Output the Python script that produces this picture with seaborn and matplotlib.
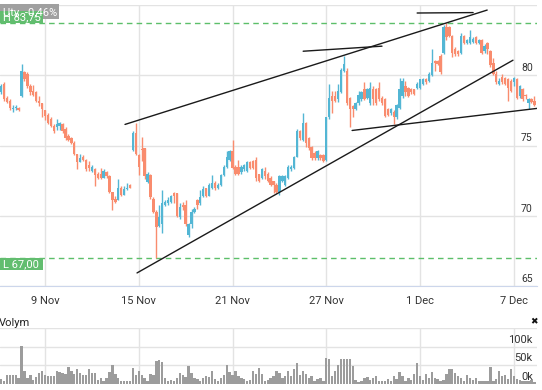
import numpy as np
import pandas as pd
import matplotlib
matplotlib.use('Agg')
import matplotlib.pyplot as plt
import matplotlib.transforms as mtransforms
from matplotlib.patches import Rectangle
import seaborn as sns

# candles, one per trading period (index 1..183)
opens = [78.8, 79.4, 78.4, 78.2, 77.6, 77.65, 77.7, 78.5, 80.2, 80.1,
         79.2, 78.9, 78.8, 78.2, 78.05, 77.5, 77.2, 76.9, 76.4, 76.3,
         76.4, 76.5, 76.2, 75.7, 75.5, 75.2, 74.4, 73.8, 74.2, 74.0,
         73.6, 73.2, 73.3, 73.0, 73.0, 72.7, 73.1, 72.8, 71.7, 71.2,
         71.1, 72.0, 71.5, 71.9, 72.2, 74.7, 75.9, 74.3, 74.75, 74.8,
         72.4, 72.9, 71.2, 70.3, 69.3, 69.4, 70.8, 70.9, 71.0, 71.6,
         71.6, 69.9, 70.8, 70.8, 68.6, 69.4, 70.3, 71.1, 70.9, 71.4,
         72.0, 71.4, 72.0, 72.3, 72.0, 72.2, 72.9, 73.5, 74.0, 74.6,
         73.5, 73.5, 73.1, 73.3, 73.2, 73.8, 73.9, 74.0, 73.0, 72.7,
         73.2, 73.0, 72.7, 72.5, 72.2, 71.7, 72.5, 72.2, 72.7, 73.3,
         73.4, 74.2, 76.0, 75.4, 76.6, 75.5, 74.9, 74.5, 74.1, 74.3,
         74.3, 74.0, 77.0, 78.5, 78.5, 78.3, 78.8, 80.3, 80.3, 78.4,
         77.8, 77.6, 78.0, 78.3, 79.0, 78.4, 78.0, 79.0, 79.0, 79.1,
         78.4, 78.3, 77.6, 77.3, 77.4, 77.0, 77.7, 78.5, 79.2, 79.1,
         79.0, 79.0, 79.1, 79.1, 79.4, 79.7, 79.6, 80.0, 81.0, 81.0,
         81.4, 81.6, 83.4, 83.4, 82.8, 81.9, 81.7, 81.6, 82.8, 82.3,
         82.3, 82.4, 82.7, 82.3, 82.5, 81.7, 82.3, 81.7, 80.9, 80.1,
         79.4, 79.9, 79.8, 79.7, 79.6, 79.5, 79.7, 78.5, 79.0, 78.6,
         78.0, 78.3, 78.2]
highs = [79.4, 79.5, 78.5, 78.3, 77.9, 77.9, 77.75, 80.8, 80.3, 80.2,
         79.4, 79.3, 78.9, 78.5, 78.05, 77.55, 77.3, 77.0, 76.5, 76.9,
         76.7, 76.6, 76.3, 75.8, 75.6, 75.3, 74.4, 74.4, 74.3, 74.05,
         73.9, 73.6, 73.4, 73.1, 73.4, 73.3, 73.15, 72.9, 71.7, 71.4,
         72.6, 72.1, 72.1, 72.3, 72.25, 76.0, 76.6, 74.4, 75.6, 74.8,
         73.1, 73.0, 71.3, 70.4, 70.8, 71.8, 71.1, 71.3, 71.5, 71.7,
         71.6, 70.9, 71.0, 71.1, 69.45, 70.5, 70.6, 71.2, 71.8, 72.1,
         72.0, 72.3, 72.9, 72.5, 72.3, 73.0, 73.6, 74.6, 74.7, 75.4,
         73.6, 74.0, 73.6, 73.7, 73.9, 73.9, 74.0, 74.2, 73.0, 73.4,
         73.5, 73.1, 72.8, 72.5, 72.3, 72.9, 72.9, 72.9, 73.6, 73.6,
         74.25, 76.2, 76.1, 77.3, 76.65, 75.6, 75.0, 74.6, 74.7, 74.4,
         74.4, 77.05, 79.4, 78.9, 78.9, 79.4, 80.5, 81.4, 80.5, 78.45,
         77.9, 78.1, 78.9, 78.9, 79.5, 79.1, 79.5, 79.2, 79.1, 79.5,
         78.5, 78.4, 77.7, 77.7, 77.5, 77.95, 79.8, 79.8, 79.6, 79.15,
         79.1, 79.05, 79.5, 79.75, 79.8, 79.8, 80.2, 81.9, 81.1, 81.05,
         81.5, 83.6, 83.75, 83.5, 82.85, 82.0, 81.8, 83.0, 82.9, 82.6,
         83.2, 82.7, 82.8, 82.6, 82.55, 82.2, 82.4, 81.8, 81.2, 80.3,
         79.8, 80.1, 79.9, 79.8, 79.7, 79.9, 79.8, 79.3, 79.1, 78.65,
         78.35, 78.4, 78.5]
lows = [78.7, 78.2, 78.0, 77.5, 77.4, 77.5, 77.45, 78.45, 79.6, 79.1,
        78.6, 78.5, 78.1, 77.8, 77.0, 76.8, 76.5, 76.3, 75.9, 76.1,
        76.1, 75.9, 75.4, 75.3, 75.1, 74.3, 73.3, 73.8, 73.9, 73.2,
        73.2, 73.1, 72.1, 72.6, 72.6, 72.7, 72.7, 71.6, 70.4, 70.9,
        71.1, 71.4, 71.5, 71.8, 71.95, 74.6, 74.35, 72.9, 73.9, 72.6,
        72.3, 71.2, 70.2, 67.0, 69.2, 68.8, 70.7, 70.8, 70.9, 70.9,
        69.9, 69.8, 70.4, 69.3, 68.5, 69.1, 70.2, 70.5, 70.8, 71.3,
        71.3, 71.4, 71.9, 71.8, 71.9, 72.1, 72.8, 73.4, 73.9, 73.3,
        72.9, 72.9, 73.0, 73.2, 73.1, 73.3, 73.3, 72.5, 72.4, 72.6,
        72.6, 72.4, 72.1, 71.6, 71.65, 71.5, 72.4, 72.1, 72.6, 73.2,
        73.3, 74.15, 75.4, 75.35, 74.9, 74.7, 74.0, 74.0, 74.0, 74.0,
        73.8, 73.9, 76.9, 77.3, 78.1, 78.1, 78.75, 80.2, 77.9, 76.3,
        77.0, 77.5, 77.9, 78.2, 78.25, 78.3, 77.9, 77.9, 77.9, 78.2,
        77.9, 77.05, 77.1, 77.2, 76.5, 76.9, 77.6, 78.4, 78.5, 78.45,
        78.7, 78.6, 79.0, 79.0, 79.3, 79.4, 79.5, 79.95, 80.3, 80.7,
        80.1, 81.5, 82.5, 82.7, 81.3, 81.4, 81.4, 81.5, 82.2, 82.2,
        82.2, 82.3, 82.2, 82.2, 81.5, 81.6, 81.5, 80.6, 80.0, 79.4,
        79.3, 79.4, 79.3, 78.2, 78.8, 79.2, 78.3, 78.4, 78.2, 78.3,
        77.6, 78.0, 77.8]
closes = [79.2, 78.3, 78.1, 77.7, 77.7, 77.7, 77.5, 80.3, 79.7, 79.2,
          78.8, 78.6, 78.2, 78.05, 77.6, 77.1, 76.6, 76.4, 76.0, 76.5,
          76.6, 76.0, 75.5, 75.4, 75.2, 74.4, 73.8, 74.1, 74.0, 73.3,
          73.4, 73.5, 72.9, 72.7, 72.7, 73.2, 72.8, 71.7, 71.1, 71.0,
          72.0, 71.5, 71.9, 72.0, 72.0, 75.9, 74.4, 73.5, 74.65, 72.8,
          73.0, 71.3, 70.3, 69.2, 69.9, 70.9, 71.0, 71.1, 71.4, 71.4,
          70.0, 70.6, 70.6, 69.4, 69.4, 70.3, 70.5, 70.8, 71.3, 71.9,
          71.4, 72.2, 72.3, 72.0, 72.2, 72.9, 73.5, 74.2, 74.6, 73.4,
          73.0, 73.0, 73.5, 73.6, 73.8, 73.4, 73.4, 72.7, 72.5, 73.3,
          72.8, 72.5, 72.2, 72.2, 71.7, 72.8, 72.8, 72.8, 73.5, 73.5,
          74.2, 76.0, 75.5, 76.6, 75.2, 74.8, 74.1, 74.1, 74.6, 74.1,
          73.9, 77.0, 78.4, 78.2, 78.2, 78.9, 80.4, 80.8, 78.0, 77.6,
          77.6, 78.0, 78.6, 78.8, 78.3, 79.0, 79.1, 78.3, 78.0, 78.3,
          78.0, 77.1, 77.2, 77.6, 77.0, 77.9, 79.0, 79.6, 78.8, 78.5,
          78.8, 78.7, 79.4, 79.7, 79.7, 79.5, 80.1, 80.9, 80.9, 80.8,
          80.2, 83.4, 82.7, 82.8, 81.6, 81.5, 81.5, 82.8, 82.3, 82.5,
          82.7, 82.6, 82.3, 82.5, 81.6, 82.1, 81.9, 80.7, 80.1, 79.5,
          79.6, 79.5, 79.4, 79.1, 78.9, 79.8, 78.4, 79.2, 78.3, 78.5,
          78.3, 78.1, 77.9]
volumes_k = [14, 9, 25, 25, 24, 25, 16, 102, 36, 16,
             24, 12, 18, 30, 34, 24, 21, 21, 21, 34,
             33, 30, 27, 45, 34, 27, 39, 30, 24, 25,
             39, 30, 30, 12, 16, 7, 16, 33, 52, 27,
             16, 9, 9, 7, 7, 42, 25, 34, 25, 16,
             9, 27, 24, 62, 64, 60, 16, 9, 12, 7,
             16, 30, 24, 18, 48, 30, 16, 14, 7, 16,
             21, 18, 34, 14, 9, 16, 24, 52, 33, 25,
             34, 21, 16, 14, 7, 12, 34, 27, 43, 27,
             9, 12, 16, 21, 34, 30, 16, 21, 34, 21,
             39, 57, 24, 34, 27, 16, 21, 9, 14, 16,
             9, 69, 66, 21, 34, 52, 66, 66, 66, 66,
             48, 12, 5, 9, 16, 18, 12, 16, 21, 9,
             7, 9, 14, 9, 21, 14, 33, 21, 7, 16,
             12, 27, 55, 21, 12, 27, 16, 33, 16, 14,
             9, 12, 27, 39, 39, 30, 21, 16, 7, 24,
             16, 12, 16, 7, 9, 7, 7, 45, 7, 14,
             34, 21, 25, 14, 41, 21, 14, 12, 9, 9,
             7, 12, 5]

tick_pos = [16, 48, 80, 112, 144, 176]
tick_labels = ['9 Nov', '15 Nov', '21 Nov', '27 Nov', '1 Dec', '7 Dec']
price_ticks = [65, 70, 75, 80]
volume_ticks = [0, 50, 100]
# hand drawn trend lines: (start index, start price, end index, end price)
trend_lines = [
    (43.3, 76.5, 166.9, 84.64),
    (143.0, 84.43, 162.1, 84.46),
    (104.1, 81.71, 131.0, 82.07),
    (47.4, 65.93, 175.7, 81.07),
    (120.8, 76.07, 183.9, 77.64),
]
change_text = 'Utv. -0,46%'

sns.set_style('white')
plt.rcParams['font.family'] = ['Roboto', 'DejaVu Sans']

df = pd.DataFrame({'idx': np.arange(1, len(opens) + 1), 'open': opens, 'high': highs,
                   'low': lows, 'close': closes, 'volume': volumes_k})
up_col, down_col = '#53b6d4', '#f98c6e'
cols = np.where(df['close'] >= df['open'], up_col, down_col)

W, H = 542, 390
fig = plt.figure(figsize=(W / 100, H / 100), dpi=100)
ax = fig.add_axes([0, 104 / H, 537 / W, 281 / H])
axv = fig.add_axes([0, 6 / H, 537 / W, 56 / H])
xlim = (0.64, 183.9)
grid_col = '#e3e3e3'
txt_col = '#333333'

# price panel
ax.vlines(df['idx'], df['low'], df['high'], colors=cols, lw=1, zorder=3)
body = np.maximum((df['close'] - df['open']).abs(), 0.08)
ax.bar(df['idx'], body, bottom=np.minimum(df['open'], df['close']), width=0.8,
       color=cols, zorder=3, linewidth=0)
for x0, y0, x1, y1 in trend_lines:
    ax.plot([x0, x1], [y0, y1], color='#1a1a1a', lw=1, zorder=4)

hi, lo = df['high'].max(), df['low'].min()
for v in (hi, lo):
    ax.axhline(v, color='#5cbf6a', lw=1, ls=(0, (4, 3)), zorder=2)

ax.set_xlim(*xlim)
ax.set_ylim(65, 85)
ax.set_yticks([65, 70, 75, 80, 85])
ax.set_yticklabels([])
ax.set_xticks(tick_pos, tick_labels)
ax.tick_params(axis='both', length=0)
ax.tick_params(axis='x', pad=7, labelsize=8, labelcolor=txt_col)
ax.grid(True, color=grid_col, lw=1)
ax.set_axisbelow(True)
for s in ['left', 'right', 'top']:
    ax.spines[s].set_visible(False)
ax.spines['bottom'].set_color('#ccd6eb')
blend = mtransforms.blended_transform_factory(ax.transAxes, ax.transData)
for v in price_ticks:
    ax.annotate(str(v), xy=(1, v), xycoords=blend, xytext=(-3, 1.5),
                textcoords='offset points', ha='right', va='bottom',
                fontsize=7.5, color=txt_col)

# volume panel
sns.barplot(x=df['idx'], y=df['volume'], native_scale=True, ax=axv, color='#9c9c9c',
            saturation=1, width=0.8, errorbar=None, zorder=3, linewidth=0)
axv.set_xlim(*xlim)
axv.set_ylim(0, 150)
axv.set_xticks(tick_pos)
axv.set_xticklabels([])
axv.set_yticks([50, 100, 150])
axv.set_yticklabels([])
axv.set_xlabel('')
axv.set_ylabel('')
axv.tick_params(axis='both', length=0)
axv.grid(True, color=grid_col, lw=1)
axv.set_axisbelow(True)
for s in axv.spines.values():
    s.set_visible(False)
blendv = mtransforms.blended_transform_factory(axv.transAxes, axv.transData)
for v in volume_ticks:
    axv.annotate(f'{v}k', xy=(1, v), xycoords=blendv, xytext=(-3, 1.5),
                 textcoords='offset points', ha='right', va='bottom',
                 fontsize=8, color=txt_col, zorder=5)

# labels in pixel coordinates (origin at top left of the image)
ident = mtransforms.IdentityTransform()


def box(x, y_top, w, h, text, fc, size=8):
    fig.add_artist(Rectangle((x, H - y_top - h), w, h, transform=ident, fc=fc, ec='none', zorder=10))
    fig.text(x + 3, H - y_top - h / 2 - 0.5, text, transform=ident, color='white',
             fontsize=size, va='center', ha='left', zorder=11)


box(0, 4, 59, 15, change_text, '#a0a0a0')
hi_y = H - ax.transData.transform((0, hi))[1]
lo_y = H - ax.transData.transform((0, lo))[1]
box(0, hi_y - 12, 43, 12, f'H {hi:.2f}'.replace('.', ','), '#62bd6f')
box(0, lo_y, 43, 12, f'L {lo:.2f}'.replace('.', ','), '#62bd6f')

fig.text(-1, H - 326, 'Volym', transform=ident, fontsize=8, color='#222222', ha='left', va='baseline')
fig.text(533.5, H - 322, '\u2716', transform=ident, fontsize=6.5, color='#111111',
         ha='center', va='center', family='DejaVu Sans')

fig.savefig('out.png', dpi=100)
